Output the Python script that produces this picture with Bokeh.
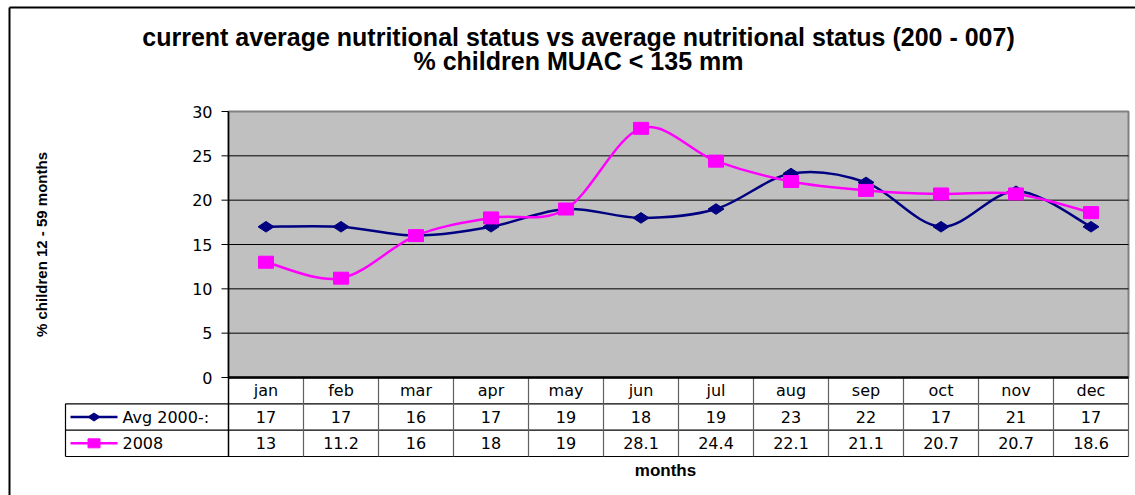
import numpy as np
from bokeh.plotting import figure
from bokeh.models import Range1d
from bokeh.embed import file_html
from bokeh.resources import INLINE
from bokeh.core.properties import value

# ---------------- data ----------------
months = ["jan", "feb", "mar", "apr", "may", "jun", "jul", "aug", "sep", "oct", "nov", "dec"]
avg_label = "Avg 2000-:"
avg_values = [17, 17, 16, 17, 19, 18, 19, 23, 22, 17, 21, 17]
y2008_label = "2008"
y2008_values = [13, 11.2, 16, 18, 19, 28.1, 24.4, 22.1, 21.1, 20.7, 20.7, 18.6]
y_ticks = [0, 5, 10, 15, 20, 25, 30]
title_line1 = "current average nutritional status vs average nutritional status (200 - 007)"
title_line2 = "% children MUAC < 135 mm"
y_title = "% children 12 - 59 months"
x_title = "months"

# ---------------- style / layout (pixels) ----------------
NAVY = "#000080"
MAGENTA = "#FF00FF"
PLOT_BG = "#C0C0C0"
FONT = "DejaVu Sans"
BOLD = "Liberation Sans"
TXT = "16px"

W, H = 1135, 495
PA_L, PA_R, PA_T, PA_B = 228, 1128, 111, 377   # plot area
TB_B = 456                                     # table bottom
LEG_L = 65                                     # table legend column left

n = len(months)
ymin, ymax = y_ticks[0], y_ticks[-1]
PXM = (PA_R - PA_L) / n            # px per month
PXY = (PA_B - PA_T) / (ymax - ymin)  # px per value unit
PXR = (TB_B - PA_B) / 3.0          # px per table row

xs = np.arange(n) + 0.5


def cx(px):
    return (px - PA_L) / PXM


def smooth(xv, yv):
    P = np.column_stack([xv, yv]).astype(float)
    m = len(P)
    Pm = np.vstack([P[0], P, P[-1]])
    c0 = P[:-1] + (Pm[2:m + 1] - Pm[0:m - 1]) / 6.0
    c1 = P[1:] - (Pm[3:m + 2] - Pm[1:m]) / 6.0
    return dict(x0=P[:-1, 0], y0=P[:-1, 1], x1=P[1:, 0], y1=P[1:, 1],
                cx0=c0[:, 0], cy0=c0[:, 1], cx1=c1[:, 0], cy1=c1[:, 1])


p = figure(width=W, height=H, x_range=Range1d(0, W), y_range=Range1d(0, H),
           x_axis_location=None, y_axis_location=None, output_backend="svg",
           toolbar_location=None, min_border=0)
p.grid.visible = False
p.outline_line_color = None
p.background_fill_color = "white"
p.border_fill_color = "white"
p.extra_x_ranges = {"cx": Range1d(-PA_L / PXM, n + (W - PA_L - n * PXM) / PXM)}
p.extra_y_ranges = {
    "cy": Range1d(ymin - (H - PA_B) / PXY, ymax + PA_T / PXY),
    "ty": Range1d(3 - (H - PA_B) / PXR, 3 + PA_B / PXR),
}
C = dict(x_range_name="cx", y_range_name="cy")
T = dict(x_range_name="cx", y_range_name="ty")

# outer chart border (top / left)
p.segment(x0=[9, 9], y0=[0, H - 7], x1=[9, W], y1=[H - 7, H - 7], line_color="black", line_width=2)

# titles
p.text(x=[578, 578], y=[H - 36, H - 60], text=[title_line1, title_line2], text_font=value(BOLD),
       text_font_style="bold", text_font_size="25px", text_align="center",
       text_baseline="middle", text_color="black")

# plot area
p.quad(left=[0], right=[n], bottom=[ymin], top=[ymax], fill_color=PLOT_BG,
       line_color="#808080", line_width=2, **C)
gy = y_ticks[1:-1]
p.segment(x0=[0] * len(gy), y0=gy, x1=[n] * len(gy), y1=gy, line_color="black", line_width=1, **C)

# y axis (line, ticks, labels, title)
p.segment(x0=[0], y0=[ymin], x1=[0], y1=[ymax], line_color="black", line_width=1.5, **C)
p.segment(x0=[cx(PA_L - 7)] * len(y_ticks), y0=y_ticks, x1=[0] * len(y_ticks), y1=y_ticks,
          line_color="black", line_width=1, **C)
p.text(x=[0] * len(y_ticks), y=y_ticks, text=[str(t) for t in y_ticks], x_offset=-16,
       text_font=value(FONT), text_font_size="16px", text_align="right",
       text_baseline="middle", text_color="black", **C)
p.text(x=[cx(41)], y=[(ymin + ymax) / 2], text=[y_title], angle=np.pi / 2,
       text_font=value(BOLD), text_font_style="bold", text_font_size="15px",
       text_align="center", text_baseline="middle", text_color="black", **C)

# series
sa = smooth(xs, avg_values)
p.bezier(source=sa, x0="x0", y0="y0", x1="x1", y1="y1", cx0="cx0", cy0="cy0",
         cx1="cx1", cy1="cy1", line_color=NAVY, line_width=2.5, **C)
sb = smooth(xs, y2008_values)
p.bezier(source=sb, x0="x0", y0="y0", x1="x1", y1="y1", cx0="cx0", cy0="cy0",
         cx1="cx1", cy1="cy1", line_color=MAGENTA, line_width=2.5, **C)
p.scatter(xs, avg_values, marker="diamond", size=16, angle=np.pi / 2,
          fill_color=NAVY, line_color=NAVY, **C)
p.rect(xs, y2008_values, width=15, height=12, width_units="screen", height_units="screen",
       fill_color=MAGENTA, line_color=MAGENTA, **C)

# ---------------- data table ----------------
LEG = cx(LEG_L)
p.segment(x0=[LEG] * 3, y0=[2, 1, 0], x1=[n] * 3, y1=[2, 1, 0], line_color="black", line_width=1.2, **T)
vx = list(range(1, n + 1))
p.segment(x0=vx, y0=[0] * n, x1=vx, y1=[3] * n, line_color="#606060", line_width=1.2, **T)
p.segment(x0=[0], y0=[0], x1=[0], y1=[3], line_color="black", line_width=1.5, **T)
p.segment(x0=[LEG], y0=[0], x1=[LEG], y1=[2], line_color="black", line_width=1.2, **T)
p.segment(x0=[0], y0=[3], x1=[n], y1=[3], line_color="black", line_width=2.5, **T)

p.text(x=xs, y=[2.5] * n, text=months, text_font=value(FONT), text_font_size=TXT,
       text_align="center", text_baseline="middle", text_color="black", **T)
p.text(x=xs, y=[1.5] * n, text=[f"{v:g}" for v in avg_values], text_font=value(FONT),
       text_font_size=TXT, text_align="center", text_baseline="middle", text_color="black", **T)
p.text(x=xs, y=[0.5] * n, text=[f"{v:g}" for v in y2008_values], text_font=value(FONT),
       text_font_size=TXT, text_align="center", text_baseline="middle", text_color="black", **T)

# legend keys in the table
k0, k1, kt = cx(70), cx(117), cx(122)
kc = (k0 + k1) / 2
p.segment(x0=[k0, k0], y0=[1.5, 0.5], x1=[k1, k1], y1=[1.5, 0.5], line_color=[NAVY, MAGENTA],
          line_width=2.5, **T)
p.scatter([kc], [1.5], marker="diamond", size=12, angle=np.pi / 2, fill_color=NAVY,
          line_color=NAVY, **T)
p.rect([kc], [0.5], width=12, height=9, width_units="screen", height_units="screen",
       fill_color=MAGENTA, line_color=MAGENTA, **T)
p.text(x=[kt, kt], y=[1.5, 0.5], text=[avg_label, y2008_label], text_font=value(FONT),
       text_font_size=TXT, text_align="left", text_baseline="middle", text_color="black", **T)

# x axis title
p.text(x=[cx(665)], y=[3 - (470 - PA_B) / PXR], text=[x_title], text_font=value(BOLD),
       text_font_style="bold", text_font_size="17px", text_align="center",
       text_baseline="middle", text_color="black", **T)

open("out.html", "w").write(file_html(p, INLINE))
